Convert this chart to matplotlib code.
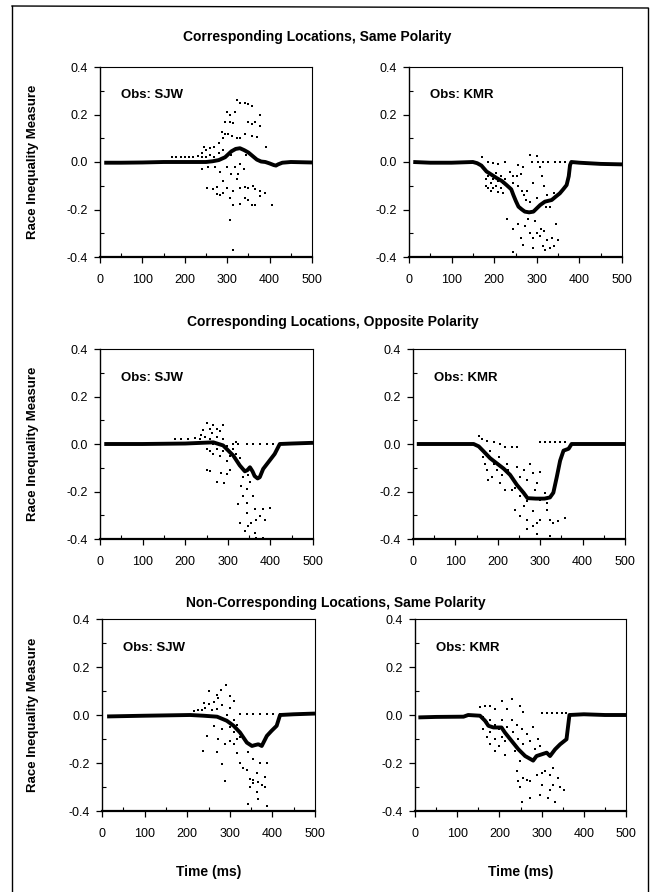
import numpy as np
import matplotlib
matplotlib.use('Agg')
import matplotlib.pyplot as plt
from matplotlib.lines import Line2D

plt.rcParams['font.family'] = ['Liberation Sans', 'DejaVu Sans']
plt.rcParams['axes.unicode_minus'] = False

W, H = 654, 892

row_titles = ['Corresponding Locations, Same Polarity',
              'Corresponding Locations, Opposite Polarity',
              'Non-Corresponding Locations, Same Polarity']
observers = ['Obs: SJW', 'Obs: KMR']
ylabel = 'Race Inequality Measure'
xlabel = 'Time (ms)'
xticks = [0, 100, 200, 300, 400, 500]
yticks = [-0.4, -0.2, 0.0, 0.2, 0.4]
yticklabels = ['-0.4', '-0.2', '0.0', '0.2', '0.4']

# mean race inequality curves (thick lines)
mean_t1 = [10, 50, 100, 150, 200, 250, 265, 280, 295, 310, 320, 330, 340, 350, 360, 370, 380, 390, 400, 410, 415, 420, 430, 450, 500]
mean_v1 = [-0.003, -0.003, -0.002, 0.0, 0.0, 0.0, 0.003, 0.008, 0.02, 0.045, 0.055, 0.058, 0.05, 0.04, 0.025, 0.01, 0.002, 0.0, -0.006, -0.013, -0.015, -0.01, -0.003, 0.0, -0.002]
mean_t2 = [10, 50, 100, 150, 160, 170, 182, 195, 206, 218, 229, 240, 245, 251, 257, 265, 272, 282, 292, 300, 308, 319, 335, 345, 354, 362, 370, 375, 378, 381, 400, 450, 500]
mean_v2 = [0.0, -0.003, -0.003, 0.0, -0.005, -0.015, -0.04, -0.055, -0.068, -0.08, -0.097, -0.115, -0.139, -0.165, -0.188, -0.2, -0.209, -0.212, -0.209, -0.195, -0.181, -0.167, -0.16, -0.145, -0.132, -0.115, -0.097, -0.06, -0.013, 0.0, -0.003, -0.008, -0.01]
mean_t3 = [10, 100, 200, 266, 289, 313, 328, 340, 346, 352, 358, 363, 370, 375, 383, 398, 410, 422, 450, 500]
mean_v3 = [0.0, 0.0, 0.002, 0.007, -0.006, -0.049, -0.09, -0.115, -0.11, -0.098, -0.115, -0.135, -0.145, -0.14, -0.105, -0.07, -0.042, 0.0, 0.002, 0.005]
mean_t4 = [9, 50, 100, 143, 155, 166, 182, 198, 214, 229, 245, 261, 270, 290, 310, 323, 331, 339, 347, 355, 367, 374, 400, 450, 500]
mean_v4 = [0.0, 0.0, 0.0, 0.0, -0.01, -0.03, -0.06, -0.082, -0.104, -0.13, -0.172, -0.206, -0.228, -0.23, -0.23, -0.225, -0.205, -0.14, -0.07, -0.028, -0.02, 0.0, 0.0, 0.0, 0.0]
mean_t5 = [12, 100, 207, 238, 270, 293, 309, 324, 340, 352, 360, 367, 375, 387, 398, 410, 418, 450, 500]
mean_v5 = [-0.006, -0.003, 0.0, -0.003, -0.007, -0.024, -0.045, -0.073, -0.115, -0.129, -0.125, -0.122, -0.129, -0.087, -0.066, -0.045, 0.0, 0.003, 0.006]
mean_t6 = [8, 50, 115, 126, 154, 166, 174, 186, 205, 213, 229, 245, 261, 280, 288, 300, 312, 320, 332, 344, 359, 366, 400, 450, 500]
mean_v6 = [-0.01, -0.008, -0.007, 0.0, -0.003, -0.024, -0.045, -0.052, -0.052, -0.073, -0.108, -0.143, -0.171, -0.19, -0.171, -0.164, -0.157, -0.171, -0.143, -0.122, -0.101, 0.0, 0.003, 0.0, 0.0]

# individual data points (dots)
dots_t1 = [322, 330, 342, 350, 358, 299, 307, 318, 377, 295, 307, 314, 349, 366, 358, 377,
           287, 295, 302, 311, 322, 330, 342, 358, 370, 392, 250, 250, 260, 260, 270, 270, 280, 280, 290, 290, 240, 245,
           170, 180, 190, 200, 210, 220, 230, 240, 240, 255, 271, 283, 318, 330, 326, 322, 340, 300, 310, 345, 310, 290,
           252, 267, 275, 299, 314, 330, 342, 350, 365, 377, 389, 360, 275, 283, 290, 307, 342, 350, 377,
           314, 330, 358, 365, 405, 307, 314]
dots_v1 = [0.26, 0.25, 0.25, 0.245, 0.235, 0.21, 0.2, 0.21, 0.2, 0.17, 0.17, 0.165, 0.17, 0.17, 0.16, 0.15,
           0.125, 0.118, 0.118, 0.11, 0.1, 0.1, 0.12, 0.11, 0.105, 0.063, 0.02, 0.05, 0.03, 0.06, 0.02, 0.065, 0.04, 0.08, 0.05, 0.1, 0.04, 0.065,
           0.02, 0.02, 0.02, 0.02, 0.02, 0.02, 0.025, 0.02, -0.03, -0.02, -0.02, -0.04, -0.02, -0.01, -0.05, -0.07, -0.03, -0.02, -0.05, 0.03, 0.03, -0.08,
           -0.11, -0.115, -0.105, -0.11, -0.12, -0.11, -0.105, -0.11, -0.115, -0.12, -0.13, -0.1, -0.135, -0.14, -0.13, -0.15, -0.15, -0.16, -0.145,
           -0.18, -0.175, -0.18, -0.18, -0.18, -0.245, -0.37]
dots_t2 = [171, 186, 198, 210, 225, 257, 268, 284, 288, 303, 315, 327, 343, 354, 366, 300,
           180, 180, 180, 186, 186, 192, 192, 192, 198, 198, 204, 204, 210, 210, 215, 215, 221, 221, 226,
           237, 243, 245, 253, 257, 265, 270, 275, 278, 285, 262, 290, 308, 312, 318, 325, 332, 322, 340, 300,
           229, 243, 257, 262, 272, 285, 290, 300, 308, 318, 325, 335, 346, 350, 268, 290, 315, 330, 340, 245, 320, 310, 295, 280]
dots_v2 = [0.02, 0.0, -0.005, -0.01, 0.0, -0.013, -0.02, 0.03, 0.0, 0.0, 0.0, 0.0, 0.0, 0.0, 0.0, 0.025,
           -0.04, -0.07, -0.1, -0.06, -0.11, -0.05, -0.09, -0.12, -0.07, -0.11, -0.045, -0.1, -0.08, -0.125, -0.06, -0.11, -0.09, -0.13, -0.07,
           -0.04, -0.06, -0.09, -0.06, -0.1, -0.12, -0.14, -0.16, -0.12, -0.17, -0.05, -0.09, -0.02, -0.06, -0.1, -0.14, -0.19, -0.19, -0.13, -0.15,
           -0.24, -0.28, -0.26, -0.32, -0.27, -0.3, -0.32, -0.3, -0.31, -0.29, -0.33, -0.32, -0.26, -0.33, -0.35, -0.36, -0.355, -0.36, -0.355, -0.38, -0.37, -0.28, -0.25, -0.24]
dots_t3 = [176, 191, 207, 223, 234, 238, 246, 250, 258, 266, 274, 281, 289, 242, 262,
           250, 250, 258, 258, 266, 266, 274, 274, 281, 281, 289, 289, 297, 305, 297,
           250, 258, 274, 285, 297, 305, 290, 313, 324, 344, 359, 375, 391, 406, 320, 313, 320, 328,
           332, 336, 344, 352, 344, 359, 363, 344, 328, 355, 367, 375, 383, 398, 363, 367, 383, 340, 348, 387, 324, 336, 348]
dots_v3 = [0.02, 0.02, 0.02, 0.025, 0.02, 0.04, 0.03, 0.09, 0.065, 0.08, 0.065, 0.055, 0.08, 0.06, 0.045,
           0.01, -0.02, 0.02, -0.03, 0.0, -0.04, 0.03, -0.02, 0.0, -0.05, 0.02, -0.03, -0.01, -0.05, -0.07,
           -0.11, -0.115, -0.16, -0.12, -0.125, -0.11, -0.165, 0.0, 0.0, 0.0, 0.0, 0.0, 0.0, 0.0, 0.01, -0.02, -0.04, -0.06,
           -0.176, -0.219, -0.19, -0.162, -0.247, -0.219, -0.275, -0.29, -0.332, -0.332, -0.318, -0.304, -0.275, -0.268, -0.375, -0.396, -0.396, -0.367, -0.346, -0.318, -0.254, -0.14, -0.13]
dots_t4 = [155, 162, 174, 190, 206, 217, 233, 245, 300, 312, 324, 336, 347, 359,
           166, 170, 174, 182, 186, 190, 198, 202, 206, 210, 217, 221, 233, 241, 178, 225,
           245, 253, 261, 268, 276, 284, 288, 292, 300, 253, 268, 284, 300, 312, 316,
           241, 253, 261, 268, 284, 292, 300, 316, 323, 331, 343, 359, 268, 292, 323, 284]
dots_v4 = [0.034, 0.02, 0.014, 0.007, 0.0, -0.014, -0.014, -0.011, 0.007, 0.007, 0.007, 0.007, 0.007, 0.007,
           -0.055, -0.083, -0.11, -0.028, -0.138, -0.083, -0.11, -0.055, -0.166, -0.131, -0.193, -0.083, -0.193, -0.187, -0.152, -0.11,
           -0.097, -0.138, -0.11, -0.152, -0.083, -0.124, -0.193, -0.166, -0.118, -0.221, -0.242, -0.228, -0.235, -0.207, -0.249,
           -0.276, -0.304, -0.262, -0.318, -0.283, -0.331, -0.318, -0.276, -0.318, -0.331, -0.325, -0.311, -0.359, -0.38, -0.387, -0.345]
dots_t5 = [242, 250, 262, 273, 281, 250, 270, 280, 290, 300, 310, 240,
           324, 340, 355, 371, 387, 402, 418, 215, 225, 235, 258, 270, 300, 293,
           246, 262, 273, 270, 238, 281, 289, 281, 289,
           309, 309, 309, 316, 316, 316, 324, 324, 300, 300,
           343, 355, 363, 348, 371, 387, 367, 355, 383, 383, 340, 363, 348, 367, 387, 355, 375, 343, 332]
dots_v5 = [0.03, 0.045, 0.055, 0.07, 0.04, 0.1, 0.085, 0.105, 0.125, 0.08, 0.06, 0.05,
           0.004, 0.004, 0.004, 0.004, 0.004, 0.004, 0.004, 0.015, 0.02, 0.02, 0.02, 0.025, 0.03, 0.0,
           -0.087, -0.045, -0.1, -0.155, -0.149, -0.06, -0.12, -0.205, -0.275,
           -0.02, -0.07, -0.12, -0.04, -0.1, -0.16, -0.09, -0.2, -0.05, -0.11,
           -0.156, -0.184, -0.24, -0.265, -0.202, -0.202, -0.278, -0.272, -0.258, -0.3, -0.23, -0.32, -0.3, -0.35, -0.38, -0.285, -0.29, -0.37, -0.22]
dots_t6 = [154, 166, 178, 190, 205, 217, 229, 249, 257, 300, 312, 324, 336, 348, 359,
           162, 162, 170, 170, 178, 178, 178, 190, 190, 190, 198, 198, 205, 205, 213, 213, 217,
           229, 233, 241, 245, 253, 257, 265, 272, 280, 284, 292, 296, 237, 249,
           241, 245, 257, 265, 273, 288, 300, 308, 320, 328, 340, 344, 320, 296, 316, 332, 249, 352, 253, 273, 328, 300]
dots_v6 = [0.032, 0.039, 0.039, 0.025, 0.06, 0.025, 0.067, 0.039, 0.011, 0.007, 0.007, 0.007, 0.007, 0.007, 0.007,
           -0.01, -0.06, -0.03, -0.09, -0.02, -0.07, -0.12, -0.04, -0.1, -0.15, -0.06, -0.13, -0.02, -0.09, -0.11, -0.165, -0.05,
           -0.02, -0.07, -0.04, -0.1, -0.06, -0.12, -0.08, -0.11, -0.05, -0.14, -0.1, -0.13, -0.15, -0.19,
           -0.235, -0.277, -0.263, -0.27, -0.277, -0.249, -0.242, -0.235, -0.249, -0.221, -0.263, -0.298, -0.312, -0.333, -0.347, -0.361, -0.298, -0.312, -0.361, -0.347, -0.291, -0.291]

panels = [(mean_t1, mean_v1, dots_t1, dots_v1), (mean_t2, mean_v2, dots_t2, dots_v2),
          (mean_t3, mean_v3, dots_t3, dots_v3), (mean_t4, mean_v4, dots_t4, dots_v4),
          (mean_t5, mean_v5, dots_t5, dots_v5), (mean_t6, mean_v6, dots_t6, dots_v6)]

# axes boxes in pixels: left, right, top, bottom
boxes = [(100, 312, 67, 257), (409, 622, 67, 257),
         (100, 313, 349, 539), (413, 625, 349, 539),
         (102, 315, 619, 811), (415, 626, 619, 811)]
title_pos = [(317, 37), (333, 322), (336, 603)]

fig = plt.figure(figsize=(W / 100, H / 100), dpi=100)

for i, (mt, mv, dt, dv) in enumerate(panels):
    x0, x1, yt, yb = boxes[i]
    ax = fig.add_axes([x0 / W, 1 - yb / H, (x1 - x0) / W, (yb - yt) / H])
    ax.plot(dt, dv, 's', ms=1.9, mew=0, color='black')
    ax.plot(mt, mv, '-', lw=2.8, color='black', solid_capstyle='butt')
    ax.set_xlim(0, 500)
    ax.set_ylim(-0.4, 0.4)
    ax.set_xticks(xticks)
    ax.set_xticks(range(50, 500, 100), minor=True)
    ax.set_yticks(yticks)
    ax.set_yticklabels(yticklabels)
    ax.set_yticks([-0.3, -0.1, 0.1, 0.3], minor=True)
    ax.tick_params(which='major', direction='out', length=4, width=0.9, labelsize=9)
    ax.tick_params(axis='x', which='major', pad=8)
    ax.tick_params(axis='y', which='major', pad=5)
    ax.tick_params(which='minor', direction='in', length=3, width=0.8)
    for side in ['top', 'right']:
        ax.spines[side].set_linewidth(0.8)
    ax.spines['left'].set_linewidth(1.0)
    ax.spines['bottom'].set_linewidth(1.6)
    ax.text(50, 0.28, observers[i % 2], fontsize=9.5, fontweight='bold', va='center', ha='left')
    if i % 2 == 0:
        fig.text(33 / W, 1 - (yt + yb) / 2 / H, ylabel, rotation=90, fontsize=9.5,
                 fontweight='bold', ha='center', va='center')
    if i >= 4:
        ax.set_xlabel(xlabel, fontsize=10, fontweight='bold', labelpad=18)

for k, t in enumerate(row_titles):
    cx, cy = title_pos[k]
    fig.text(cx / W, 1 - cy / H, t, fontsize=10, fontweight='bold', ha='center', va='center')

# page frame around the figure
fig.add_artist(Line2D([12 / W, 12 / W], [0.0, 1 - 6 / H], color='black', lw=1.0))
fig.add_artist(Line2D([12 / W, 648 / W], [1 - 6 / H, 1 - 8 / H], color='black', lw=1.0))
fig.add_artist(Line2D([648 / W, 648 / W], [1 - 8 / H, 0.0], color='black', lw=1.0))

fig.savefig('out.png', dpi=100, facecolor='white')
